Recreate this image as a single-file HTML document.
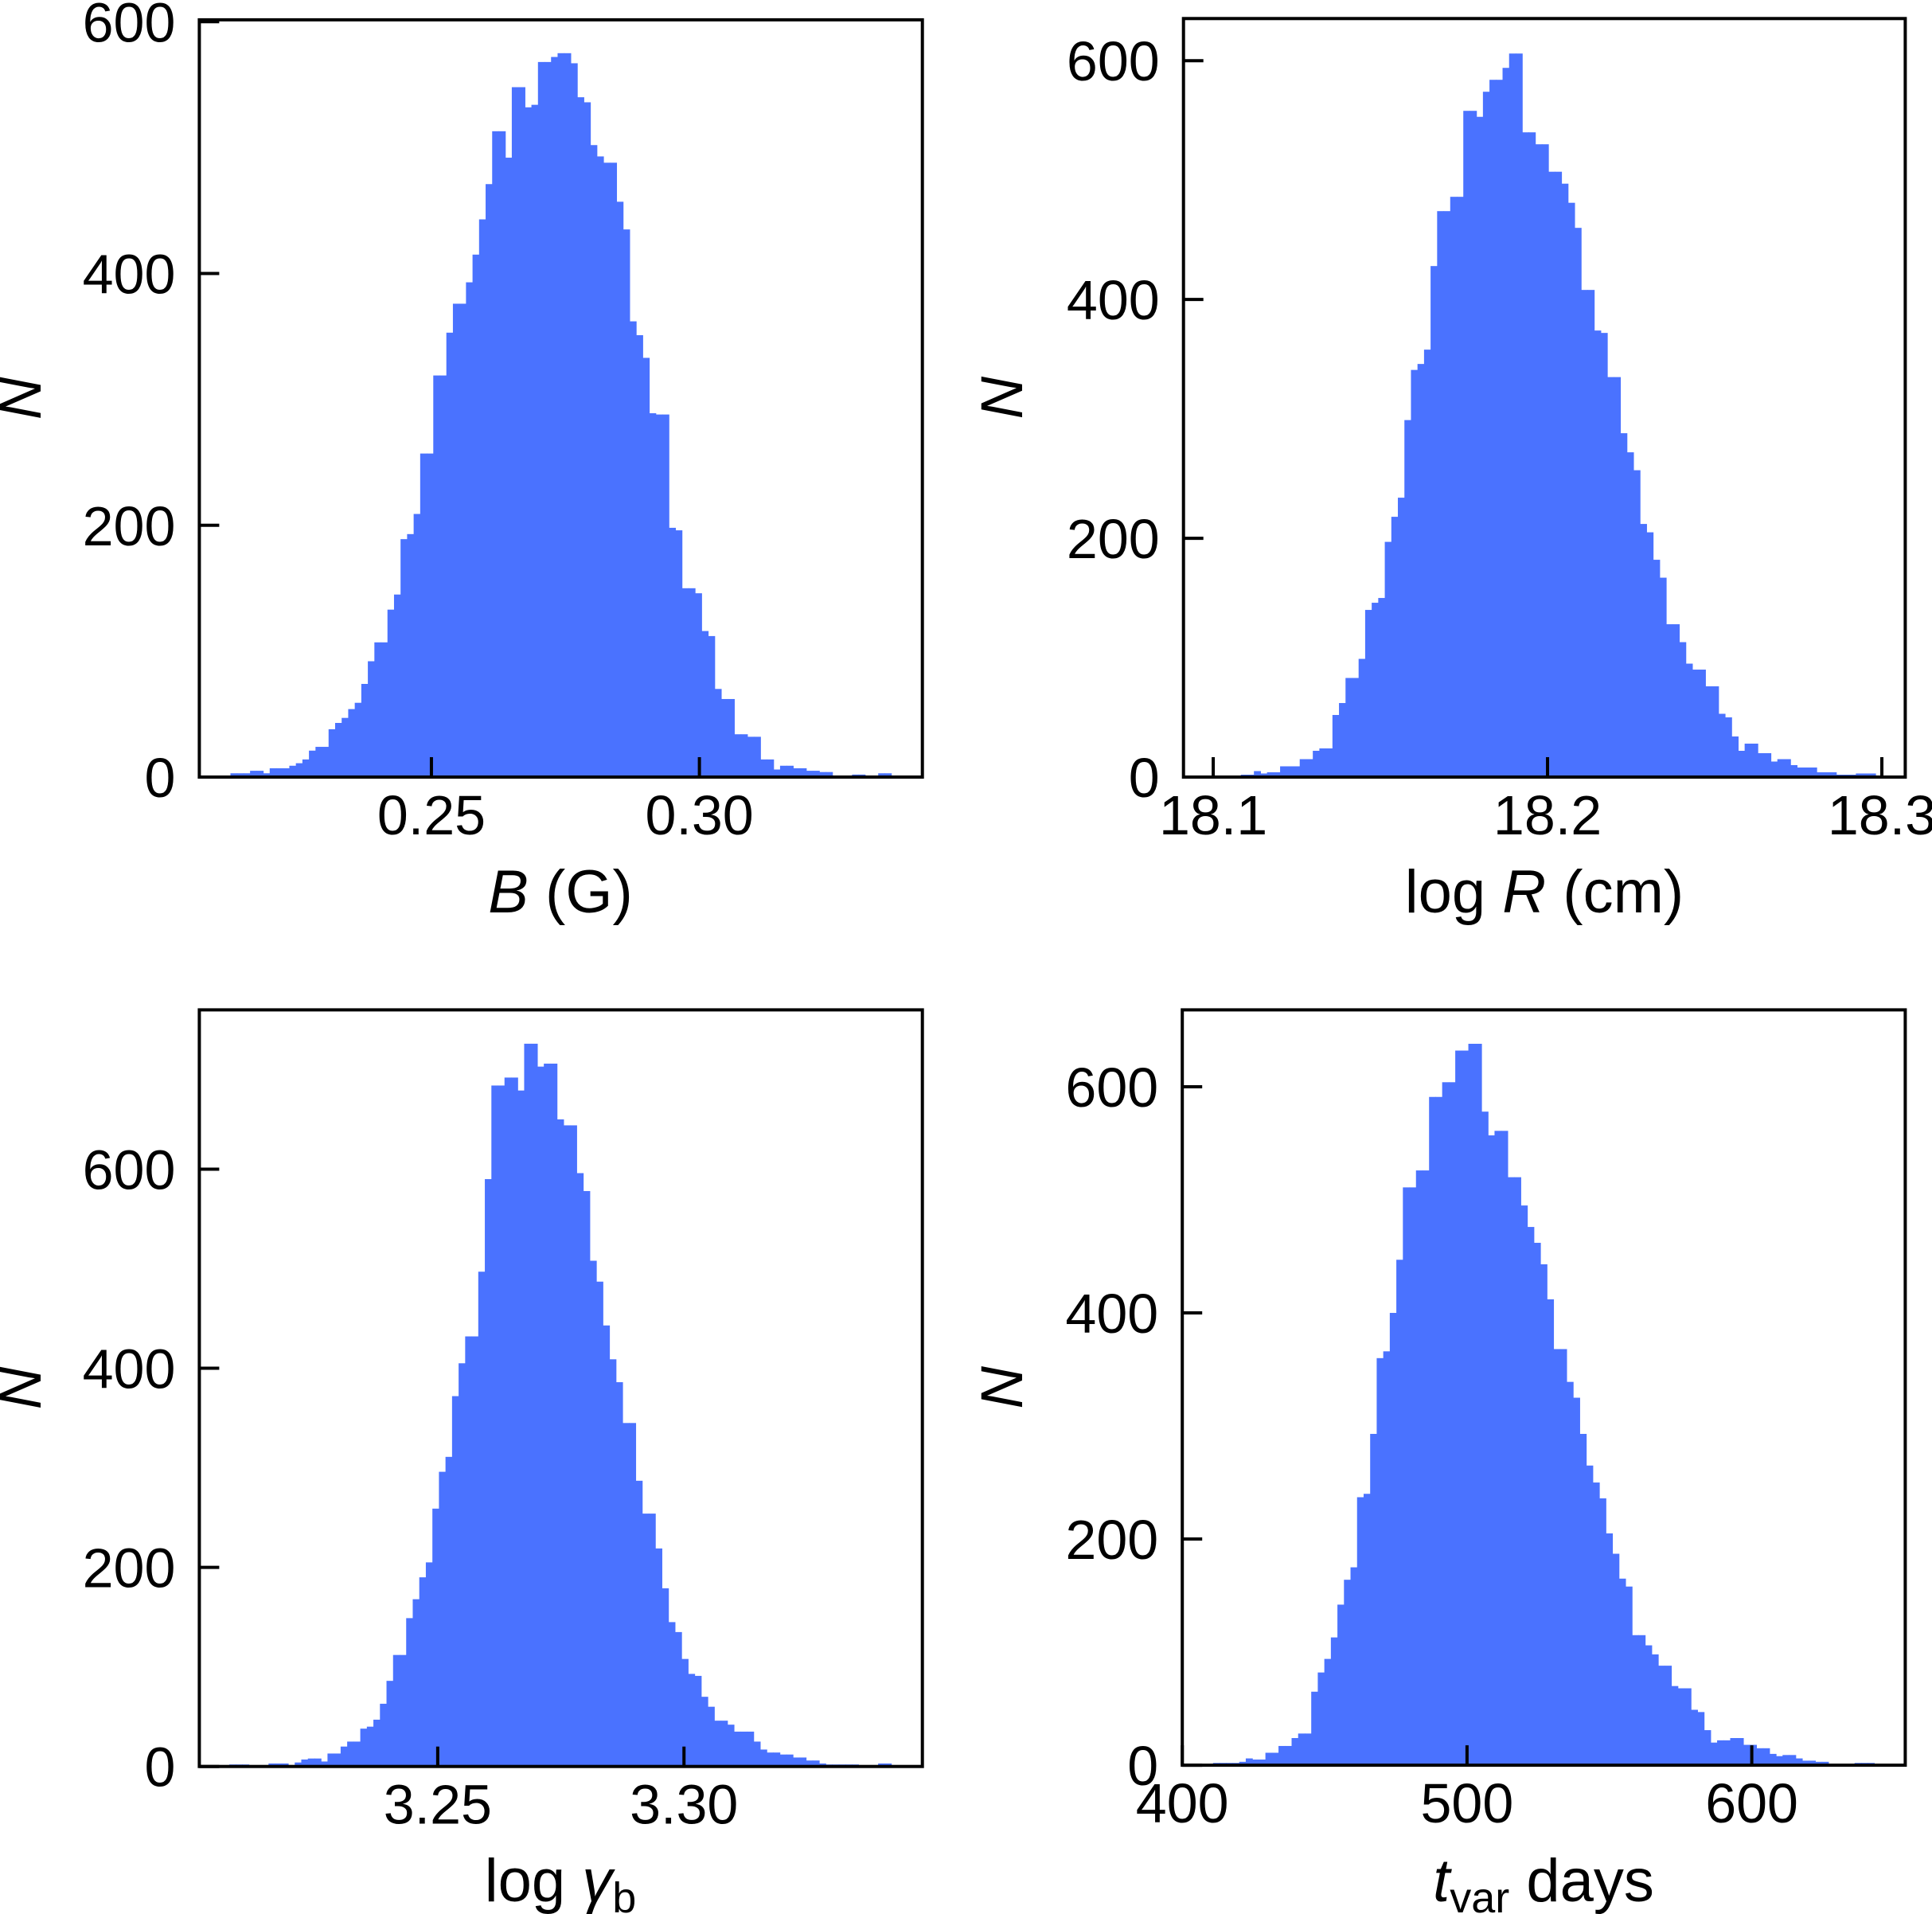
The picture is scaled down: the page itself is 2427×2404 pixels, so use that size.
<!DOCTYPE html>
<html><head><meta charset="utf-8">
<style>
html,body{margin:0;padding:0;background:#fff;}
svg{display:block;font-family:"Liberation Sans",sans-serif;}
</style></head>
<body>
<svg id="chart" width="2427" height="2404" viewBox="0 0 2427 2404" xmlns="http://www.w3.org/2000/svg"></svg>
<script>
// ---- data: histogram bin counts ----
const bCounts = [1,1,1,1,3,3,3,5,5,3,7,7,7,9,11,14,21,24,24,38,43,47,54,59,74,92,107,107,133,145,189,193,209,257,257,319,319,353,376,376,393,415,443,471,513,513,492,548,548,532,534,568,568,572,575,575,567,540,536,502,493,488,488,457,435,362,351,333,289,288,288,198,196,150,150,146,116,112,70,62,62,34,34,32,32,14,14,6,9,9,7,7,5,5,4,4,1,1,1,2,2,1,1,3,3];
const rCounts = [1,1,1,1,1,1,1,1,2,2,5,3,4,4,9,9,9,15,15,22,24,24,52,62,83,83,99,140,146,150,197,218,234,299,341,346,358,428,474,474,486,486,558,558,553,574,584,584,594,606,606,540,540,530,530,507,507,497,481,460,408,408,374,372,335,335,288,272,257,212,205,182,167,128,128,113,95,90,90,76,76,53,50,34,22,28,28,20,20,13,15,15,10,8,8,8,4,4,4,2,2,2,3,3,3];
const gCounts = [2,2,2,1,1,1,3,3,3,1,4,7,8,8,5,13,13,20,25,25,38,40,47,63,86,112,112,149,168,190,205,259,296,311,372,405,432,432,497,590,684,684,692,692,679,726,726,703,706,706,650,644,644,596,578,508,487,443,409,386,345,345,287,254,254,219,179,145,135,108,93,91,70,60,46,46,42,35,35,35,25,17,14,14,12,12,9,9,6,6,3,2,2,2,2,2,1,1,1,3,3];
const tCounts = [2,2,2,2,3,6,5,5,11,11,17,17,24,28,28,65,82,94,113,142,164,175,237,240,293,360,366,400,447,511,511,526,526,591,591,604,604,632,632,638,638,578,557,561,561,520,520,495,476,462,443,412,368,368,339,325,293,265,250,236,205,187,165,158,115,115,106,98,88,88,70,68,68,49,47,31,20,22,22,24,24,18,18,15,15,10,8,9,9,6,4,4,3,3,1,1,1,1,2,2,2];
// bin ranges (data units)
const bRange = [0.20762, 0.3358];
const rRange = [18.0926, 18.2981];
const gRange = [3.20766, 3.34208];
const tRange = [410.8, 643.0];
// tick values / labels
const bXTicks = [0.25, 0.30];
const bXLabels = ["0.25", "0.30"];
const rXTicks = [18.1, 18.2, 18.3];
const rXLabels = ["18.1", "18.2", "18.3"];
const gXTicks = [3.25, 3.30];
const gXLabels = ["3.25", "3.30"];
const tXTicks = [400, 500, 600];
const tXLabels = ["400", "500", "600"];
const yTicks = [0, 200, 400, 600];
const yLabels = ["0", "200", "400", "600"];

const NS = "http://www.w3.org/2000/svg";
const svg = document.getElementById("chart");
function mk(tag, attrs, parent) {
  const e = document.createElementNS(NS, tag);
  for (const k in attrs) e.setAttribute(k, attrs[k]);
  (parent || svg).appendChild(e);
  return e;
}

const panels = [
  {id:"b", box:[250.4,24.9,1158.7,976], xlim:[0.2067,0.3416], ymax:601.5, counts:bCounts, range:bRange, xt:bXTicks, xl:bXLabels, label:'<tspan font-style="italic">B</tspan> (G)', lx:704, ly:1146, nx:51},
  {id:"r", box:[1486.7,23.3,2393.4,976], xlim:[18.0911,18.307], ymax:635.3, counts:rCounts, range:rRange, xt:rXTicks, xl:rXLabels, label:'log <tspan font-style="italic">R</tspan> (cm)', lx:1940, ly:1146, nx:1284},
  {id:"g", box:[250.4,1268.4,1158.7,2218.7], xlim:[3.2016,3.3484], ymax:760, counts:gCounts, range:gRange, xt:gXTicks, xl:gXLabels, label:'log <tspan font-style="italic">γ</tspan><tspan font-size="54" dy="14">b</tspan>', lx:704, ly:2388, nx:51},
  {id:"t", box:[1485.2,1268.4,2393.4,2217.1], xlim:[400,653.9], ymax:668, counts:tCounts, range:tRange, xt:tXTicks, xl:tXLabels, label:'<tspan font-style="italic">t</tspan><tspan font-size="54" dy="14">var</tspan><tspan dy="-14"> days</tspan>', lx:1939, ly:2388, nx:1284}
];

panels.forEach(function(p){
  const [x0,y0,x1,y1] = p.box;
  const sx = v => x0 + (v - p.xlim[0]) / (p.xlim[1]-p.xlim[0]) * (x1-x0);
  const sy = v => y1 - v / p.ymax * (y1-y0);
  const g = mk("g", {});
  
  
  const n = p.counts.length;
  const w = (p.range[1]-p.range[0]) / n;
  p.counts.forEach(function(c, i){
    const a = sx(p.range[0] + i*w), b = sx(p.range[0] + (i+1)*w);
    const r = mk("rect", {x:a, y:sy(c), width:(b-a)+0.6, height:y1-sy(c), fill:"#4a72ff"}, g);
    
    
  });
  yTicks.forEach(function(v, i){
    const y = sy(v);
    const t = mk("line", {x1:x0, x2:x0+25, y1:y, y2:y, stroke:"#000", "stroke-width":4}, g);
    
    
    const tx = mk("text", {x:x0-30, y:y+25, "text-anchor":"end", "font-size":70, fill:"#000"}, g);
    tx.textContent = yLabels[i];
    
    
  });
  p.xt.forEach(function(v, i){
    const x = sx(v);
    const t = mk("line", {x1:x, x2:x, y1:y1, y2:y1-25, stroke:"#000", "stroke-width":4}, g);
    
    
    const tx = mk("text", {x:x, y:y1+72, "text-anchor":"middle", "font-size":70, fill:"#000"}, g);
    tx.textContent = p.xl[i];
    
    
  });
  const fr = mk("rect", {x:x0, y:y0, width:x1-x0, height:y1-y0, fill:"none", stroke:"#000", "stroke-width":4}, g);
  
  
  const xl = mk("text", {x:p.lx, y:p.ly, "text-anchor":"middle", "font-size":76, fill:"#000"}, g);
  xl.innerHTML = p.label;
  
  
  const cy = (y0+y1)/2;
  const yl = mk("text", {x:p.nx, y:cy, "text-anchor":"middle", "font-size":74, "font-style":"italic", fill:"#000", transform:"rotate(-90 " + p.nx + " " + cy + ")"}, g);
  yl.textContent = "N";
  
  
});
</script>
</body></html>
